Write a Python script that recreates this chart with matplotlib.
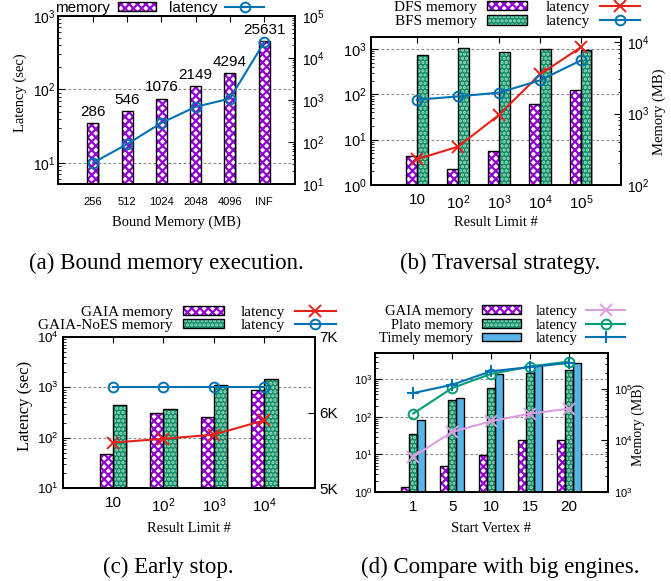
import matplotlib
matplotlib.use('Agg')
import matplotlib.pyplot as plt
import numpy as np
from matplotlib.ticker import LogLocator, NullFormatter, FixedLocator, FuncFormatter
from matplotlib.patches import Patch
from matplotlib.lines import Line2D

SANS = ['Liberation Sans', 'DejaVu Sans']
SERIF = ['Liberation Serif', 'DejaVu Serif']
plt.rcParams['font.family'] = SANS
plt.rcParams['mathtext.default'] = 'regular'
plt.rcParams['hatch.linewidth'] = 1.6

# ---------------- data ----------------
# (a) Bound memory execution
a_categories = ['256', '512', '1024', '2048', '4096', 'INF']
a_memory = [286, 546, 1076, 2149, 4294, 25631]
a_latency = [10, 18, 35, 58, 75, 440]

# (b) Traversal strategy
b_categories = ['10', r'$10^2$', r'$10^3$', r'$10^4$', r'$10^5$']
b_dfs_memory = [255, 168, 302, 1340, 2130]
b_bfs_memory = [6600, 8340, 7180, 7940, 7800]
b_dfs_latency = [3.7, 7.0, 35, 275, 1090]
b_bfs_latency = [76, 90, 109, 203, 560]

# (c) Early stop
c_categories = ['10', r'$10^2$', r'$10^3$', r'$10^4$']
c_gaia_memory = [5450, 5990, 5935, 6295]
c_noes_memory = [6105, 6045, 6370, 6450]
c_gaia_latency = [80, 95, 115, 222]
c_noes_latency = [1000, 1000, 1000, 1000]

# (d) Compare with big engines
d_categories = ['1', '5', '10', '15', '20']
d_gaia_memory = [1230, 3180, 5200, 10000, 10000]
d_plato_memory = [13650, 60300, 106000, 204000, 237000]
d_timely_memory = [25500, 68000, 198000, 296000, 324000]
d_gaia_latency = [8.7, 40, 77, 123, 166]
d_plato_latency = [123, 590, 1410, 2210, 3000]
d_timely_latency = [433, 721, 1660, 2125, 2770]

# ---------------- style ----------------
PURPLE = '#9400d3'
GREEN_FACE = '#0f8a66'
GREEN_DOT = '#9fe3c6'
BLUE_BAR = '#56b4e9'
BLUE_LINE = '#0072b2'
RED = '#e8201a'
PINK = '#dd9ee0'
GREEN_LINE = '#009e73'

W, H = 671, 581
fig = plt.figure(figsize=(W / 100, H / 100), dpi=100)


def rect(l, t, r, b):
    return [l / W, 1 - b / H, (r - l) / W, (b - t) / H]


def setup(px, left_lim, right_lim, xlim, cats, right_log=True,
          lsize=10, rsize=10, xsize=11, lpad=2, rpad=5, xpad=6):
    ax = fig.add_axes(rect(*px))
    ax.set_yscale('log')
    ax.set_ylim(left_lim)
    ax2 = ax.twinx()
    if right_log:
        ax2.set_yscale('log')
    ax2.set_ylim(right_lim)
    ax3 = ax.twinx()
    ax3.set_yscale('log')
    ax3.set_ylim(left_lim)
    ax3.yaxis.set_visible(False)
    ax.set_xlim(xlim)
    ax.set_xticks(range(len(cats)))
    ax.set_xticklabels(cats)
    ax.yaxis.grid(True, which='major', ls=(0, (2.5, 2)), color='#8a8a8a', lw=0.8)
    ax.yaxis.set_major_locator(LogLocator(base=10, numticks=20))
    ax.yaxis.set_minor_locator(LogLocator(base=10, subs=np.arange(2, 10), numticks=20))
    ax.yaxis.set_minor_formatter(NullFormatter())
    if right_log:
        ax2.yaxis.set_major_locator(LogLocator(base=10, numticks=20))
        ax2.yaxis.set_minor_locator(LogLocator(base=10, subs=np.arange(2, 10), numticks=20))
        ax2.yaxis.set_minor_formatter(NullFormatter())
    ax.tick_params(axis='y', which='both', direction='in', left=True, right=False)
    ax.tick_params(axis='y', which='major', length=5, labelsize=lsize, pad=lpad)
    ax.tick_params(axis='y', which='minor', length=2.5)
    ax.tick_params(axis='x', which='both', direction='in', top=True, bottom=True,
                   length=4, labelsize=xsize, pad=xpad)
    ax2.tick_params(axis='y', which='both', direction='in', right=True, left=False)
    ax2.tick_params(axis='y', which='major', length=5, labelsize=rsize, pad=rpad)
    ax2.tick_params(axis='y', which='minor', length=2.5)
    for a in (ax, ax2, ax3):
        for s in a.spines.values():
            s.set_linewidth(1.1)
    return ax, ax2, ax3


def bars(axx, x, h, w, kind):
    x = np.asarray(x, dtype=float)
    # drop shadow
    axx.bar(x + w * 0.12, h, w, color='#b0b0b0', linewidth=0, zorder=1)
    if kind == 'purple':
        axx.bar(x, h, w, color='white', edgecolor=PURPLE, hatch='xxxx', linewidth=0, zorder=2)
    elif kind == 'green':
        axx.bar(x, h, w, color=GREEN_FACE, edgecolor=GREEN_DOT, hatch='....', linewidth=0, zorder=2)
    else:
        axx.bar(x, h, w, color=BLUE_BAR, linewidth=0, zorder=2)
    return axx.bar(x, h, w, fill=False, edgecolor='black', linewidth=1.0, zorder=3)


def bar_handle(kind):
    if kind == 'purple':
        f = Patch(facecolor='white', edgecolor=PURPLE, hatch='xxxx', linewidth=0)
    elif kind == 'green':
        f = Patch(facecolor=GREEN_FACE, edgecolor=GREEN_DOT, hatch='....', linewidth=0)
    else:
        f = Patch(facecolor=BLUE_BAR, linewidth=0)
    return (f, Patch(fill=False, edgecolor='black', linewidth=1.0))


def line(axx, x, y, color, marker, ms=7):
    axx.plot(x, y, color=color, marker=marker, mfc='none', ms=ms, mew=1.4, lw=1.5,
             clip_on=False, zorder=5)
    return Line2D([], [], color=color, marker=marker, mfc='none', ms=ms, mew=1.4, lw=1.5)


# ---------------- (a) ----------------
ax, ax2, ax3 = setup((58, 16, 295, 184), (5.15, 1000), (10, 1e5), (-1.02, 5.9),
                     a_categories, lsize=10, rsize=10, xsize=8, lpad=2, rpad=5, xpad=9)
xa = np.arange(len(a_categories))
cont = bars(ax2, xa, a_memory, 0.32, 'purple')
ax2.bar_label(cont, labels=[str(v) for v in a_memory], padding=3, fontsize=11)
h_lat = line(ax3, xa, a_latency, BLUE_LINE, 'o')
fig.legend([bar_handle('purple'), h_lat], ['memory', 'latency'], loc='center left',
           bbox_to_anchor=(55 / W, 1 - 8 / H), ncol=2, frameon=False, markerfirst=False,
           prop={'family': SANS, 'size': 11}, handlelength=2.55, handleheight=0.55,
           handletextpad=0.5, columnspacing=0.85, borderpad=0, borderaxespad=0)
fig.text(20 / W, 1 - 93 / H, 'Latency (sec)', rotation=90, ha='center', va='center',
         family=SERIF, size=10.5)
fig.text(176 / W, 1 - 222 / H, 'Bound Memory (MB)', ha='center', va='center',
         family=SERIF, size=10.5)
fig.text(166 / W, 1 - 263 / H, '(a) Bound memory execution.', ha='center', va='center',
         family=SERIF, size=16.5)

# ---------------- (b) ----------------
ax, ax2, ax3 = setup((371, 37, 621, 185), (1, 1840), (100, 11750), (-1.12, 4.98),
                     b_categories, lsize=10.5, rsize=10, xsize=11, lpad=3, rpad=4, xpad=6)
xb = np.arange(len(b_categories))
bars(ax2, xb - 0.13, b_dfs_memory, 0.26, 'purple')
bars(ax2, xb + 0.13, b_bfs_memory, 0.26, 'green')
h1 = line(ax3, xb, b_dfs_latency, RED, 'x', ms=8)
h2 = line(ax3, xb, b_bfs_latency, BLUE_LINE, 'o')
fig.legend([bar_handle('purple'), bar_handle('green'), h1, h2],
           ['DFS memory', 'BFS memory', 'latency', 'latency'], loc='center right',
           bbox_to_anchor=(640 / W, 1 - 14.5 / H), ncol=2, frameon=False, markerfirst=False,
           prop={'family': SERIF, 'size': 11}, handlelength=2.6, handleheight=0.55,
           handletextpad=0.7, columnspacing=1.2, labelspacing=0.12, borderpad=0,
           borderaxespad=0)
fig.text(659 / W, 1 - 112 / H, 'Memory (MB)', rotation=90, ha='center', va='center',
         family=SERIF, size=10.5)
fig.text(496 / W, 1 - 223 / H, 'Result Limit #', ha='center', va='center',
         family=SERIF, size=10.5)
fig.text(500 / W, 1 - 263 / H, '(b) Traversal strategy.', ha='center', va='center',
         family=SERIF, size=16.5)

# ---------------- (c) ----------------
ax, ax2, ax3 = setup((63, 337, 315, 488), (10, 1e4), (5000, 7000), (-0.99, 4.0),
                     c_categories, right_log=False, lsize=9.5, rsize=11, xsize=11,
                     lpad=3, rpad=3, xpad=6)
ax2.yaxis.set_major_locator(FixedLocator([5000, 6000, 7000]))
ax2.yaxis.set_major_formatter(FuncFormatter(lambda v, p: f'{int(round(v / 1000))}K'))
xc = np.arange(len(c_categories))
bars(ax2, xc - 0.13, c_gaia_memory, 0.26, 'purple')
bars(ax2, xc + 0.13, c_noes_memory, 0.26, 'green')
h1 = line(ax3, xc, c_gaia_latency, RED, 'x', ms=8)
h2 = line(ax3, xc, c_noes_latency, BLUE_LINE, 'o')
fig.legend([bar_handle('purple'), bar_handle('green'), h1, h2],
           ['GAIA memory', 'GAIA-NoES memory', 'latency', 'latency'], loc='center right',
           bbox_to_anchor=(336 / W, 1 - 319 / H), ncol=2, frameon=False, markerfirst=False,
           prop={'family': SERIF, 'size': 11}, handlelength=2.7, handleheight=0.55,
           handletextpad=0.65, columnspacing=1.1, labelspacing=0.0, borderpad=0,
           borderaxespad=0)
fig.text(25 / W, 1 - 406 / H, 'Latency (sec)', rotation=90, ha='center', va='center',
         family=SERIF, size=12)
fig.text(189 / W, 1 - 528 / H, 'Result Limit #', ha='center', va='center',
         family=SERIF, size=10.5)
fig.text(168 / W, 1 - 567 / H, '(c) Early stop.', ha='center', va='center',
         family=SERIF, size=16.5)

# ---------------- (d) ----------------
ax, ax2, ax3 = setup((375, 353, 608, 492), (1, 5070), (1000, 5e5), (-0.98, 5.0),
                     d_categories, lsize=8, rsize=8, xsize=11, lpad=2, rpad=4, xpad=6)
xd = np.arange(len(d_categories))
bars(ax2, xd - 0.2, d_gaia_memory, 0.2, 'purple')
bars(ax2, xd, d_plato_memory, 0.2, 'green')
bars(ax2, xd + 0.2, d_timely_memory, 0.2, 'blue')
h1 = line(ax3, xd, d_gaia_latency, PINK, 'x', ms=8)
h2 = line(ax3, xd, d_plato_latency, GREEN_LINE, 'o')
h3 = line(ax3, xd, d_timely_latency, BLUE_LINE, '+', ms=9)
fig.legend([bar_handle('purple'), bar_handle('green'), bar_handle('blue'), h1, h2, h3],
           ['GAIA memory', 'Plato memory', 'Timely memory', 'latency', 'latency', 'latency'],
           loc='center right', bbox_to_anchor=(625 / W, 1 - 325 / H), ncol=2, frameon=False,
           markerfirst=False, prop={'family': SERIF, 'size': 10.5}, handlelength=2.67,
           handleheight=0.55, handletextpad=0.6, columnspacing=1.0, labelspacing=0.05,
           borderpad=0, borderaxespad=0)
fig.text(638 / W, 1 - 425 / H, 'Memory (MB)', rotation=90, ha='center', va='center',
         family=SERIF, size=10)
fig.text(491 / W, 1 - 529 / H, 'Start Vertex #', ha='center', va='center',
         family=SERIF, size=10.5)
fig.text(500 / W, 1 - 567 / H, '(d) Compare with big engines.', ha='center', va='center',
         family=SERIF, size=16.5)

fig.savefig('out.png', dpi=100)
